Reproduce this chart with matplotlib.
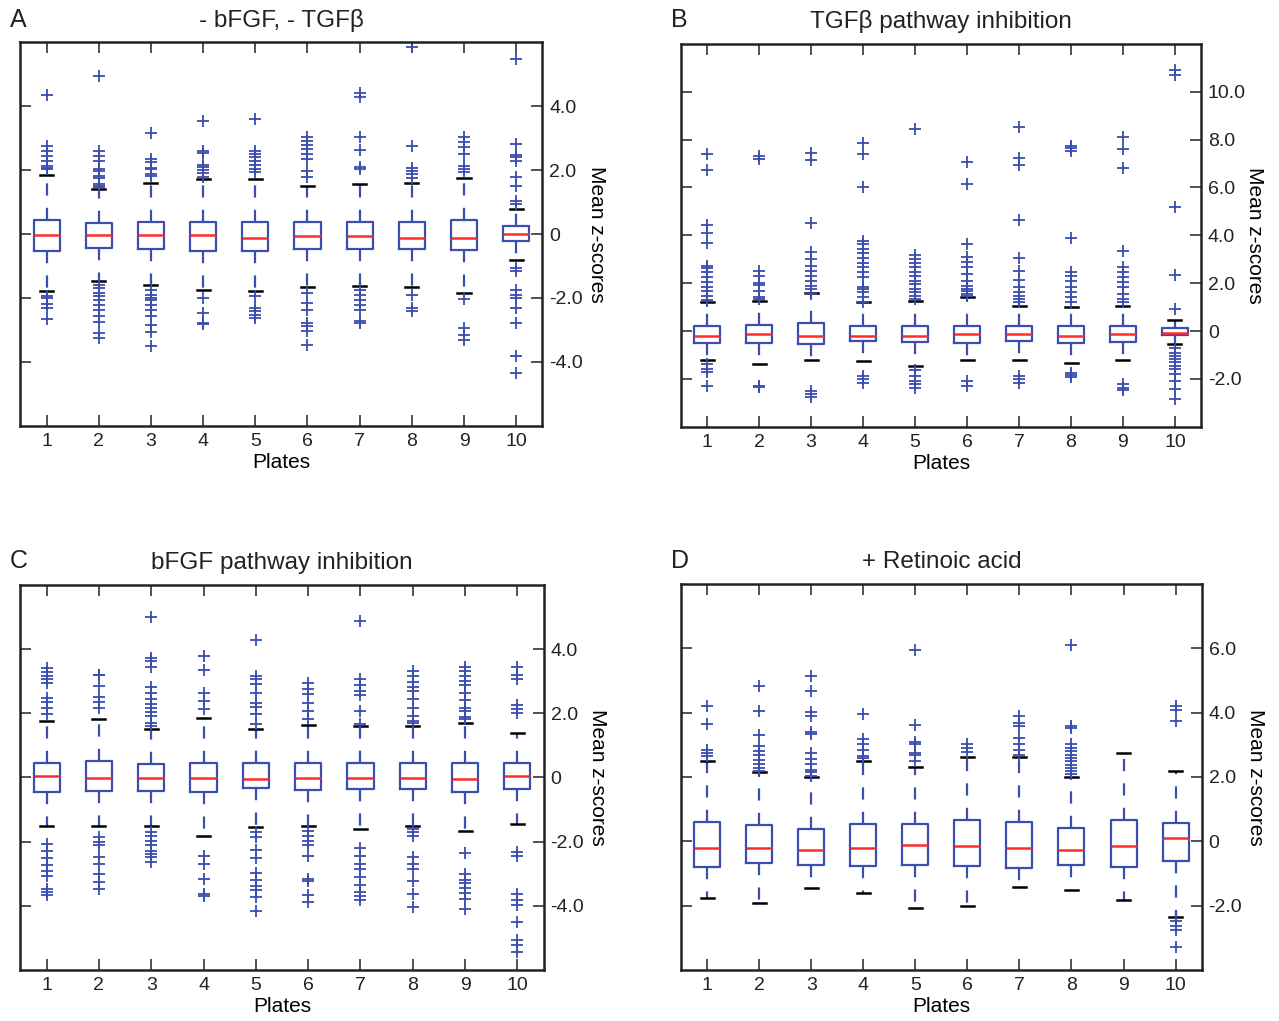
import matplotlib
matplotlib.use("Agg")
import matplotlib.pyplot as plt
import numpy as np

plt.rcParams['font.family'] = ['Liberation Sans', 'DejaVu Sans']

PLATES = [1, 2, 3, 4, 5, 6, 7, 8, 9, 10]

# ---- panel A: - bFGF, - TGFb ----
A_MED = [-0.04, -0.04, -0.04, -0.04, -0.12, -0.05, -0.05, -0.12, -0.12, 0.01]
A_Q1 = [-0.53, -0.45, -0.48, -0.53, -0.53, -0.48, -0.48, -0.48, -0.51, -0.22]
A_Q3 = [0.44, 0.36, 0.39, 0.39, 0.39, 0.39, 0.39, 0.39, 0.43, 0.25]
A_LO = [-1.79, -1.46, -1.60, -1.76, -1.79, -1.66, -1.61, -1.65, -1.86, -0.81]
A_HI = [1.85, 1.40, 1.60, 1.71, 1.71, 1.50, 1.56, 1.61, 1.77, 0.80]
A_FLIERS = [
    [4.36, 2.76, 2.61, 2.45, 2.29, 2.14, 2.08, 2.03, -1.95, -2.0, -2.2, -2.3, -2.65],
    [4.96, 2.61, 2.45, 2.29, 2.03, 1.98, 1.82, 1.77, 1.56, 1.51, 1.46, -1.58, -1.69,
     -1.84, -1.95, -2.05, -2.21, -2.37, -2.58, -2.75, -3.1, -3.26],
    [3.15, 2.35, 2.24, 2.08, 2.03, 1.87, 1.82, -1.74, -1.90, -2.0, -2.05, -2.21,
     -2.37, -2.58, -2.86, -3.05, -3.5],
    [3.55, 2.61, 2.55, 2.17, 2.10, 2.0, 1.90, 1.79, -2.0, -2.47, -2.79, -2.82],
    [3.6, 2.61, 2.5, 2.4, 2.29, 2.17, 2.05, 1.95, -1.95, -2.31, -2.42, -2.52, -2.63],
    [3.03, 2.92, 2.80, 2.66, 2.5, 2.35, 1.98, 1.79, -1.84, -2.16, -2.37, -2.79,
     -2.87, -3.03, -3.47],
    [4.41, 4.28, 3.05, 2.63, 2.10, 2.05, -1.74, -1.9, -2.05, -2.21, -2.37, -2.73, -2.79],
    [5.85, 2.75, 2.08, 1.98, 1.87, 1.77, -1.90, -2.31, -2.42],
    [3.03, 2.87, 2.73, 2.52, 2.14, 2.03, 1.93, -2.02, -2.94, -3.15, -3.31],
    [5.49, 2.82, 2.48, 2.42, 2.29, 1.79, 1.51, 1.04, 0.93, -1.06, -1.16, -1.74,
     -1.9, -2.0, -2.31, -2.79, -3.83, -4.36],
]

# ---- panel B: TGFb pathway inhibition ----
B_MED = [-0.2, -0.13, -0.2, -0.2, -0.2, -0.13, -0.13, -0.2, -0.13, -0.07]
B_Q1 = [-0.5, -0.48, -0.55, -0.43, -0.45, -0.48, -0.41, -0.48, -0.45, -0.15]
B_Q3 = [0.2, 0.27, 0.32, 0.2, 0.22, 0.22, 0.2, 0.2, 0.2, 0.13]
B_LO = [-1.2, -1.38, -1.2, -1.27, -1.48, -1.2, -1.2, -1.34, -1.2, -0.55]
B_HI = [1.2, 1.27, 1.59, 1.2, 1.27, 1.41, 1.06, 0.99, 1.06, 0.46]
B_FLIERS = [
    [7.4, 6.73, 4.45, 4.1, 3.69, 2.7, 2.63, 2.46, 2.25, 2.04, 1.86, 1.66, 1.48,
     1.3, 1.24, -1.36, -1.59, -1.73, -2.29],
    [7.31, 7.17, 2.53, 2.32, 2.0, 1.94, 1.66, 1.44, 1.34, -2.29, -2.32],
    [7.43, 7.15, 4.53, 3.3, 3.02, 2.7, 2.53, 2.32, 2.11, 1.9, 1.76, 1.55,
     -2.5, -2.64, -2.76],
    [7.87, 7.4, 6.0, 3.75, 3.62, 3.44, 3.27, 3.05, 2.84, 2.67, 2.46, 2.25, 1.83,
     1.76, 1.62, 1.41, 1.2, -1.87, -2.01, -2.15],
    [8.43, 3.16, 3.02, 2.84, 2.67, 2.46, 2.32, 2.11, 1.97, 1.76, 1.62, 1.48, 1.34,
     -1.62, -1.87, -2.08, -2.22, -2.36],
    [7.08, 6.14, 3.62, 3.09, 2.88, 2.67, 2.39, 2.11, 1.9, 1.76, 1.66, 1.55, 1.48,
     -2.08, -2.29],
    [8.52, 7.22, 6.94, 4.66, 3.06, 2.53, 2.15, 1.83, 1.62, 1.48, 1.34, 1.2,
     -1.87, -2.01, -2.15],
    [7.73, 7.64, 7.54, 3.9, 2.46, 2.32, 2.11, 1.83, 1.62, 1.41, 1.2, -1.76, -1.85, -1.94],
    [8.13, 7.61, 6.8, 3.34, 2.67, 2.46, 2.25, 2.04, 1.83, 1.55, 1.34, 1.2,
     -2.22, -2.36, -2.48],
    [10.92, 10.71, 5.19, 2.36, 0.92, -0.69, -0.9, -1.03, -1.17, -1.31, -1.45,
     -1.59, -1.8, -2.08, -2.43, -2.85],
]

# ---- panel C: bFGF pathway inhibition ----
C_MED = [0.04, -0.01, -0.01, -0.01, -0.05, -0.01, -0.01, -0.01, -0.05, 0.04]
C_Q1 = [-0.45, -0.41, -0.41, -0.45, -0.34, -0.4, -0.36, -0.36, -0.45, -0.36]
C_Q3 = [0.45, 0.5, 0.41, 0.45, 0.44, 0.45, 0.45, 0.45, 0.45, 0.45]
C_LO = [-1.5, -1.5, -1.5, -1.81, -1.55, -1.5, -1.61, -1.5, -1.66, -1.45]
C_HI = [1.76, 1.81, 1.5, 1.85, 1.5, 1.65, 1.61, 1.61, 1.71, 1.4]
C_FLIERS = [
    [3.42, 3.28, 3.16, 3.06, 2.95, 2.49, 2.35, 2.18, 1.97, -2.07, -2.28, -2.52,
     -2.73, -2.9, -3.06, -3.47, -3.58, -3.66],
    [3.21, 3.18, 2.85, 2.52, 2.35, 2.18, -1.87, -2.02, -2.12, -2.49, -2.69, -3.01,
     -3.26, -3.47],
    [5.0, 3.73, 3.63, 3.45, 2.83, 2.64, 2.44, 2.28, 2.18, 2.04, 1.92, 1.71, 1.61,
     -1.69, -1.81, -1.97, -2.12, -2.28, -2.38, -2.49, -2.62],
    [3.8, 3.35, 2.64, 2.38, 2.12, -2.44, -2.69, -3.16, -3.63, -3.68],
    [4.3, 3.16, 3.06, 2.93, 2.64, 2.33, 2.21, 1.97, 1.66, -1.69, -1.87, -2.25,
     -2.52, -2.98, -3.21, -3.37, -3.52, -3.73, -4.15],
    [2.95, 2.77, 2.59, 2.33, 2.07, 1.81, -1.66, -1.81, -1.97, -2.12, -2.44, -3.16,
     -3.24, -3.66, -3.89],
    [4.87, 3.06, 2.87, 2.69, 2.56, 2.07, 1.66, -2.21, -2.44, -2.69, -2.85, -3.11,
     -3.35, -3.58, -3.68, -3.83],
    [3.32, 3.16, 2.97, 2.83, 2.69, 2.44, 2.18, 1.92, 1.76, 1.69, -1.61, -1.71,
     -1.81, -2.49, -2.69, -2.85, -3.24, -3.63, -4.04],
    [3.45, 3.32, 3.16, 3.0, 2.87, 2.64, 2.41, 2.18, 2.07, 1.9, 1.81, -2.35, -3.01,
     -3.2, -3.3, -3.45, -3.6, -3.8, -4.09],
    [3.45, 3.21, 3.06, 2.25, 2.12, 2.02, -2.31, -2.44, -3.63, -3.83, -3.97, -4.49,
     -5.08, -5.23, -5.44],
]

# ---- panel D: + Retinoic acid ----
D_MED = [-0.21, -0.21, -0.26, -0.21, -0.1, -0.16, -0.21, -0.26, -0.16, 0.09]
D_Q1 = [-0.81, -0.67, -0.73, -0.78, -0.73, -0.76, -0.83, -0.73, -0.81, -0.62]
D_Q3 = [0.6, 0.5, 0.39, 0.55, 0.55, 0.65, 0.6, 0.41, 0.65, 0.57]
D_LO = [-1.76, -1.92, -1.46, -1.61, -2.07, -2.02, -1.42, -1.52, -1.81, -2.35]
D_HI = [2.51, 2.16, 2.01, 2.51, 2.3, 2.61, 2.61, 2.01, 2.75, 2.2]
D_FLIERS = [
    [4.22, 3.66, 2.83, 2.75, 2.66],
    [4.82, 4.06, 3.32, 2.95, 2.82, 2.67, 2.54, 2.4, 2.28, 2.18],
    [5.13, 4.66, 4.01, 3.89, 3.39, 3.35, 2.75, 2.57, 2.4, 2.21, 2.15, 2.04],
    [3.96, 3.18, 3.01, 2.83, 2.64, 2.59],
    [5.96, 3.61, 3.08, 3.04, 2.75, 2.69, 2.49],
    [3.01, 2.9, 2.77],
    [3.89, 3.68, 3.58, 3.21, 3.01, 2.85, 2.69],
    [6.11, 3.6, 3.52, 3.01, 2.9, 2.8, 2.69, 2.59, 2.49, 2.38, 2.28, 2.18, 2.09],
    [],
    [4.22, 4.07, 3.73, -2.49, -2.62, -2.75, -3.3],
]

PANELS = [
    ("A", "- bFGF, - TGF\u03b2", A_MED, A_Q1, A_Q3, A_LO, A_HI, A_FLIERS,
     (-6, 6), [-4, -2, 0, 2, 4]),
    ("B", "TGF\u03b2 pathway inhibition", B_MED, B_Q1, B_Q3, B_LO, B_HI, B_FLIERS,
     (-4, 12), [-2, 0, 2, 4, 6, 8, 10]),
    ("C", "bFGF pathway inhibition", C_MED, C_Q1, C_Q3, C_LO, C_HI, C_FLIERS,
     (-6, 6), [-4, -2, 0, 2, 4]),
    ("D", "+ Retinoic acid", D_MED, D_Q1, D_Q3, D_LO, D_HI, D_FLIERS,
     (-4, 8), [-2, 0, 2, 4, 6]),
]

RECTS = [
    [0.0160, 0.5830, 0.4080, 0.3755],
    [0.5325, 0.5820, 0.4065, 0.3750],
    [0.0160, 0.0500, 0.4090, 0.3770],
    [0.5325, 0.0500, 0.4070, 0.3780],
]
LETTER_POS = [(0.008, 0.980), (0.525, 0.980), (0.008, 0.451), (0.525, 0.451)]

BLUE = '#3a4db0'


def fmt(v):
    return "0" if v == 0 else f"{v:.1f}"


fig = plt.figure(figsize=(12.79, 10.21), dpi=100)

for (letter, title, med, q1, q3, lo, hi, fl, ylim, yt), rect, lp in zip(PANELS, RECTS, LETTER_POS):
    ax = fig.add_axes(rect)
    stats = []
    for i in range(len(PLATES)):
        stats.append(dict(med=med[i], q1=q1[i], q3=q3[i], whislo=lo[i],
                          whishi=hi[i], fliers=fl[i]))
    ax.bxp(stats, positions=PLATES, widths=0.5,
           boxprops=dict(color=BLUE, lw=1.6),
           whiskerprops=dict(color=BLUE, lw=1.6, linestyle=(0, (5.5, 5.5))),
           capprops=dict(color='black', lw=1.8),
           medianprops=dict(color='#ff2a2a', lw=1.8),
           flierprops=dict(marker='+', markersize=9, markeredgecolor=BLUE,
                           markeredgewidth=1.3, linestyle='none'))
    ax.set_xlim(0.5, 10.5)
    ax.set_ylim(*ylim)
    ax.set_xticks(PLATES)
    ax.set_xticklabels([str(p) for p in PLATES])
    ax.set_yticks(yt)
    ax.set_yticklabels([fmt(v) for v in yt])
    ax.tick_params(axis='both', direction='in', length=8, width=1.1,
                   top=True, bottom=True, left=True, right=True,
                   labelleft=False, labelright=True, labelsize=14, pad=5,
                   colors='#222222')
    for s in ax.spines.values():
        s.set_linewidth(1.8)
        s.set_color('#222222')

    h = rect[3] * 1021
    w = rect[2] * 1279
    ax.set_xlabel("Plates", fontsize=15, va='center')
    ax.xaxis.set_label_coords(0.5, -37 / h)
    ax.set_ylabel("Mean z-scores", fontsize=15, rotation=270, va='center', ha='center')
    ax.yaxis.set_label_coords(1 + 54 / w, 0.5)
    ax.text(0.5, 1 + 22 / h, title, transform=ax.transAxes, ha='center',
            va='center', fontsize=17.5, color='#222222')
    fig.text(lp[0], lp[1], letter, fontsize=18, ha='left', va='center', color='#222222')

fig.savefig("out.png", dpi=100)
